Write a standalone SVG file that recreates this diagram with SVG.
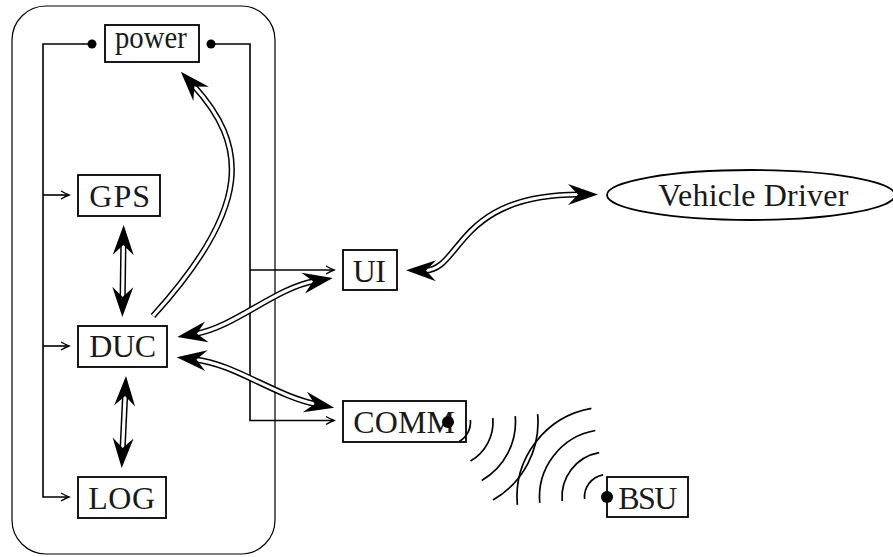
<svg xmlns="http://www.w3.org/2000/svg" width="893" height="557" viewBox="0 0 893 557">
<defs>
<style>
.box{fill:none;stroke:#000;stroke-width:1.8}
.lbl{font-family:"Liberation Serif","Times New Roman",serif;font-size:32px;fill:#1a1a1a}
.wire{fill:none;stroke:#000;stroke-width:1.6}
.dblo{fill:none;stroke:#000;stroke-width:6.2}
.dbli{fill:none;stroke:#fff;stroke-width:3.2}
.dblh{fill:none;stroke:none;marker-start:url(#head);marker-end:url(#head)}
.dblh1{fill:none;stroke:none;marker-end:url(#head)}
.wave{fill:none;stroke:#000;stroke-width:1.7}
.dot{fill:#000}
</style>
<marker id="head" markerUnits="userSpaceOnUse" orient="auto-start-reverse" refX="-18" refY="0" markerWidth="40" markerHeight="30" overflow="visible">
<path d="M0,0 L-30,-10.5 L-20,0 L-30,10.5 Z" fill="#000"/>
</marker>
<marker id="tip" markerUnits="userSpaceOnUse" orient="auto" refX="0" refY="0" markerWidth="12" markerHeight="12" overflow="visible">
<path d="M-8,-4 Q-3,-1.2 0,0 Q-3,1.2 -8,4" fill="none" stroke="#000" stroke-width="1.4"/>
</marker>
</defs>
<rect width="893" height="557" fill="#fff"/>
<g id="container">
<rect x="12" y="6" width="263" height="548" rx="34" ry="34" fill="none" stroke="#000" stroke-width="1.2"/>
</g>
<g id="connectors">
<g id="power-wires">
<path class="wire" d="M92,44 H43 V497 H69" marker-end="url(#tip)"/>
<path class="wire" d="M43,195 H69" marker-end="url(#tip)"/>
<path class="wire" d="M43,346 H69" marker-end="url(#tip)"/>
<path class="wire" d="M211,44 H250 V420.5 H334" marker-end="url(#tip)"/>
<path class="wire" d="M250,270 H334" marker-end="url(#tip)"/>
<circle class="dot" cx="92" cy="44" r="4.5"/>
<circle class="dot" cx="211" cy="44" r="4.5"/>
</g>
<g id="gps-duc">
<path class="dblo" d="M123.4,243 L122.6,299"/>
<path class="dbli" d="M123.4,243 L122.6,299"/>
<path class="dblh" d="M123.4,243 L122.6,299"/>
</g>
<g id="duc-log">
<path class="dblo" d="M125.16,393.98 L122.54,450.02"/>
<path class="dbli" d="M125.16,393.98 L122.54,450.02"/>
<path class="dblh" d="M125.16,393.98 L122.54,450.02"/>
</g>
<g id="duc-power">
<path class="dblo" d="M153,316 C254,205 247,144 193,85"/>
<path class="dbli" d="M153,316 C254,205 247,144 193,85"/>
<path class="dblh1" d="M153,316 C254,205 247,144 193,85"/>
</g>
<g id="duc-ui">
<path class="dblo" d="M195,334 C235,327 275,288 315,281"/>
<path class="dbli" d="M195,334 C235,327 275,288 315,281"/>
<path class="dblh" d="M195,334 C235,327 275,288 315,281"/>
</g>
<g id="duc-comm">
<path class="dblo" d="M194.5,359.3 C235,364 275,396 316.6,404.3"/>
<path class="dbli" d="M194.5,359.3 C235,364 275,396 316.6,404.3"/>
<path class="dblh" d="M194.5,359.3 C235,364 275,396 316.6,404.3"/>
</g>
<g id="ui-driver">
<path class="dblo" d="M424,270.5 C462,271 455,194 580,194.5"/>
<path class="dbli" d="M424,270.5 C462,271 455,194 580,194.5"/>
<path class="dblh" d="M424,270.5 C462,271 455,194 580,194.5"/>
</g>
</g>
<g id="node-power">
<rect class="box" x="105" y="25" width="94" height="37"/>
<text class="lbl" x="115" y="48.3" textLength="71.7" lengthAdjust="spacingAndGlyphs">power</text>
</g>
<g id="node-gps">
<rect class="box" x="78" y="175" width="82" height="41"/>
<text class="lbl" x="89.3" y="206.7" textLength="60.7">GPS</text>
</g>
<g id="node-duc">
<rect class="box" x="78" y="326" width="89" height="41"/>
<text class="lbl" x="89.3" y="356.7" textLength="66.7">DUC</text>
</g>
<g id="node-log">
<rect class="box" x="78" y="477" width="88" height="41"/>
<text class="lbl" x="88.3" y="509.3" textLength="66.7">LOG</text>
</g>
<g id="node-ui">
<rect class="box" x="343" y="250" width="54" height="40"/>
<text class="lbl" x="352.7" y="281.7" textLength="33.3">UI</text>
</g>
<g id="node-comm">
<rect class="box" x="343" y="401" width="123" height="41"/>
<text class="lbl" x="353.3" y="432.7" textLength="101.7">COMM</text>
</g>
<g id="node-bsu">
<rect class="box" x="607" y="477" width="81" height="40"/>
<text class="lbl" x="618.3" y="509" textLength="59">BSU</text>
</g>
<g id="node-driver">
<ellipse cx="751" cy="195" rx="144" ry="25" fill="none" stroke="#000" stroke-width="1.8"/>
<text class="lbl" x="658.3" y="205.7" textLength="190">Vehicle Driver</text>
</g>
<g id="waves">
<path class="wave" d="M470.41,420.04 A22.5,22.5 0 0 1 459.25,441.49"/>
<path class="wave" d="M492.83,418.08 A45,45 0 0 1 470.5,460.97"/>
<path class="wave" d="M515.24,416.11 A67.5,67.5 0 0 1 481.75,480.46"/>
<path class="wave" d="M537.66,414.15 A90,90 0 0 1 493,499.94"/>
<path class="wave" d="M584.59,498.96 A22.5,22.5 0 0 1 603.09,474.84"/>
<path class="wave" d="M562.17,500.92 A45,45 0 0 1 599.19,452.68"/>
<path class="wave" d="M539.76,502.89 A67.5,67.5 0 0 1 595.28,430.53"/>
<path class="wave" d="M517.34,504.85 A90,90 0 0 1 591.38,408.37"/>
<circle class="dot" cx="448" cy="422" r="6"/>
<circle class="dot" cx="607" cy="497" r="6"/>
</g>
</svg>
